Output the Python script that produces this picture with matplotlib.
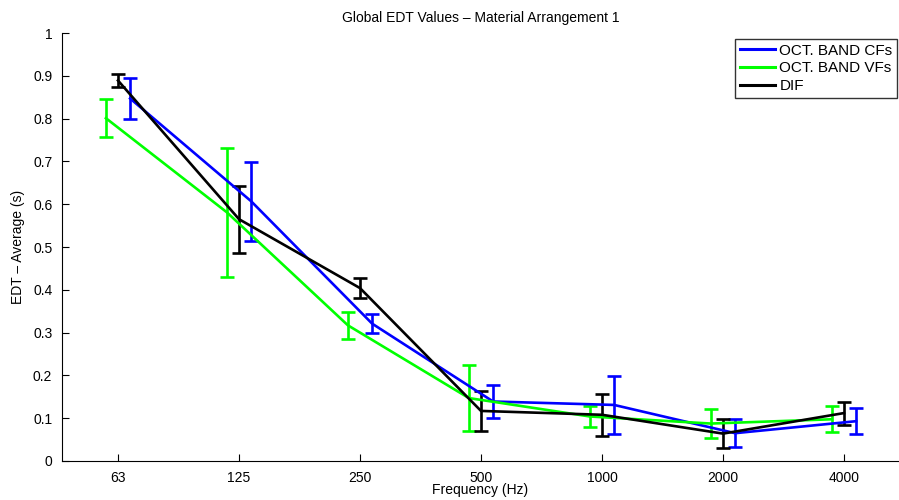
import matplotlib
matplotlib.use("Agg")
import matplotlib.pyplot as plt
from matplotlib.lines import Line2D
import numpy as np

# Octave-band centre frequencies
freq_labels = ["63", "125", "250", "500", "1000", "2000", "4000"]

# Global EDT averages (s) and their spread for each measurement set
cf_mean = [0.847, 0.607, 0.321, 0.139, 0.131, 0.065, 0.093]
cf_err = [0.048, 0.092, 0.023, 0.038, 0.068, 0.033, 0.031]

vf_mean = [0.801, 0.581, 0.317, 0.147, 0.104, 0.0875, 0.0975]
vf_err = [0.045, 0.150, 0.032, 0.077, 0.024, 0.033, 0.030]

dif_mean = [0.889, 0.565, 0.404, 0.117, 0.108, 0.064, 0.112]
dif_err = [0.015, 0.078, 0.023, 0.047, 0.049, 0.034, 0.027]

series = [
    ("OCT. BAND CFs", cf_mean, cf_err, (0, 0, 1), 0.1),
    ("OCT. BAND VFs", vf_mean, vf_err, (0, 1, 0), -0.1),
    ("DIF", dif_mean, dif_err, (0, 0, 0), 0.0),
]

plt.rcParams["font.family"] = ["Liberation Sans", "DejaVu Sans"]

fig = plt.figure(figsize=(8.99, 5.0), dpi=100)
ax = fig.add_axes([62 / 899, 39 / 500, 1 - 62 / 899, (461 - 33) / 500])

x = np.arange(1, len(freq_labels) + 1)
lw = 1.9
handles = []
for name, mean, err, color, off in series:
    ax.errorbar(x + off, mean, yerr=err, color=color, lw=lw,
                elinewidth=lw, capsize=5.0, capthick=lw, zorder=3)
    handles.append(Line2D([0], [0], color=color, lw=lw + 0.3, label=name))

ax.set_xlim(1 - 56 / 121, 7 + 55 / 121)
ax.set_ylim(0, 1)
ax.set_xticks(x)
ax.set_xticklabels(freq_labels)
ax.set_yticks(np.round(np.arange(0, 1.01, 0.1), 1))
ax.set_yticklabels(["0"] + [f"{v:.1f}" for v in np.arange(0.1, 0.95, 0.1)] + ["1"])

for side in ("top", "right"):
    ax.spines[side].set_visible(False)
for side in ("left", "bottom"):
    ax.spines[side].set_color("black")
    ax.spines[side].set_linewidth(0.8)

ax.tick_params(direction="in", length=5, width=0.8, labelsize=10,
               colors="black", pad=7)

ax.set_title("Global EDT Values \u2013 Material Arrangement 1", fontsize=10, pad=8)
ax.set_xlabel("Frequency (Hz)", fontsize=10, labelpad=-1)
ax.set_ylabel("EDT \u2013 Average (s)", fontsize=10, labelpad=6)

leg = ax.legend(handles=handles, loc="upper right",
                bbox_to_anchor=(897 / 899, (500 - 39) / 500),
                bbox_transform=fig.transFigure, borderaxespad=0,
                fontsize=11, frameon=True, fancybox=False,
                handlelength=2.3, handletextpad=0.3, labelspacing=0.25,
                borderpad=0.3)
leg.get_frame().set_edgecolor("black")
leg.get_frame().set_linewidth(1.0)

fig.savefig("out.png", dpi=100)
